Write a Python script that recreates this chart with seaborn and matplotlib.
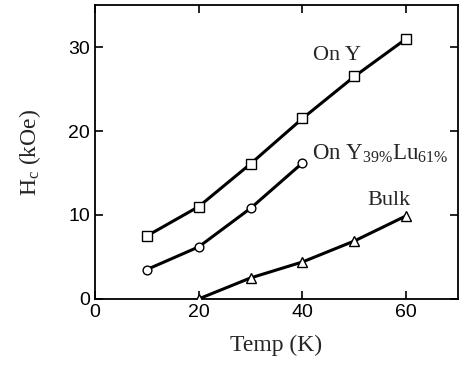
import pandas as pd
import matplotlib
matplotlib.use("Agg")
import matplotlib.pyplot as plt
import seaborn as sns

# data
temp_on_y = [10, 20, 30, 40, 50, 60]
hc_on_y = [7.5, 11.0, 16.1, 21.5, 26.5, 31.0]

temp_on_ylu = [10, 20, 30, 40]
hc_on_ylu = [3.5, 6.2, 10.8, 16.2]

temp_bulk = [20, 30, 40, 50, 60]
hc_bulk = [0.0, 2.5, 4.4, 6.9, 9.9]

sns.set_theme(style="ticks")
plt.rcParams['font.family'] = ['Liberation Sans', 'DejaVu Sans']
plt.rcParams['mathtext.fontset'] = 'custom'
plt.rcParams['mathtext.rm'] = 'Liberation Serif'
plt.rcParams['mathtext.it'] = 'Liberation Serif:italic'

fig = plt.figure(figsize=(4.59, 3.69), dpi=100)
ax = fig.add_axes([0.207, 0.190, 0.791, 0.796])

series = [
    (temp_on_y, hc_on_y, 's', 7.0),
    (temp_on_ylu, hc_on_ylu, 'o', 6.3),
    (temp_bulk, hc_bulk, '^', 7.5),
]
for xs, ys, mk, ms in series:
    sns.lineplot(x=xs, y=ys, ax=ax, color='black', linewidth=2.2,
                 marker=mk, markersize=ms, markerfacecolor='white',
                 markeredgecolor='black', markeredgewidth=1.0, zorder=3)

ax.set_xlim(0, 70)
ax.set_ylim(0, 35)
ax.set_xticks([0, 20, 40, 60])
ax.set_yticks([0, 10, 20, 30])
ax.tick_params(direction='in', length=6, width=1.2, labelsize=14,
               top=True, right=True, colors='black')
for s in ax.spines.values():
    s.set_linewidth(1.3)
    s.set_color('black')

serif = ['Liberation Serif', 'DejaVu Serif']
ax.set_xlabel("Temp (K)", family=serif, fontsize=17, labelpad=10)
ax.set_ylabel(r"H$_\mathrm{c}$ (kOe)", family=serif, fontsize=17, labelpad=18)

ax.text(42.0, 28.5, "On Y", family=serif, fontsize=16)
ax.text(41.8, 16.6, r"On Y$_\mathrm{39\%}$Lu$_\mathrm{61\%}$", family=serif, fontsize=16.5)
ax.text(52.5, 11.2, "Bulk", family=serif, fontsize=16)

fig.savefig("out.png", dpi=100)
